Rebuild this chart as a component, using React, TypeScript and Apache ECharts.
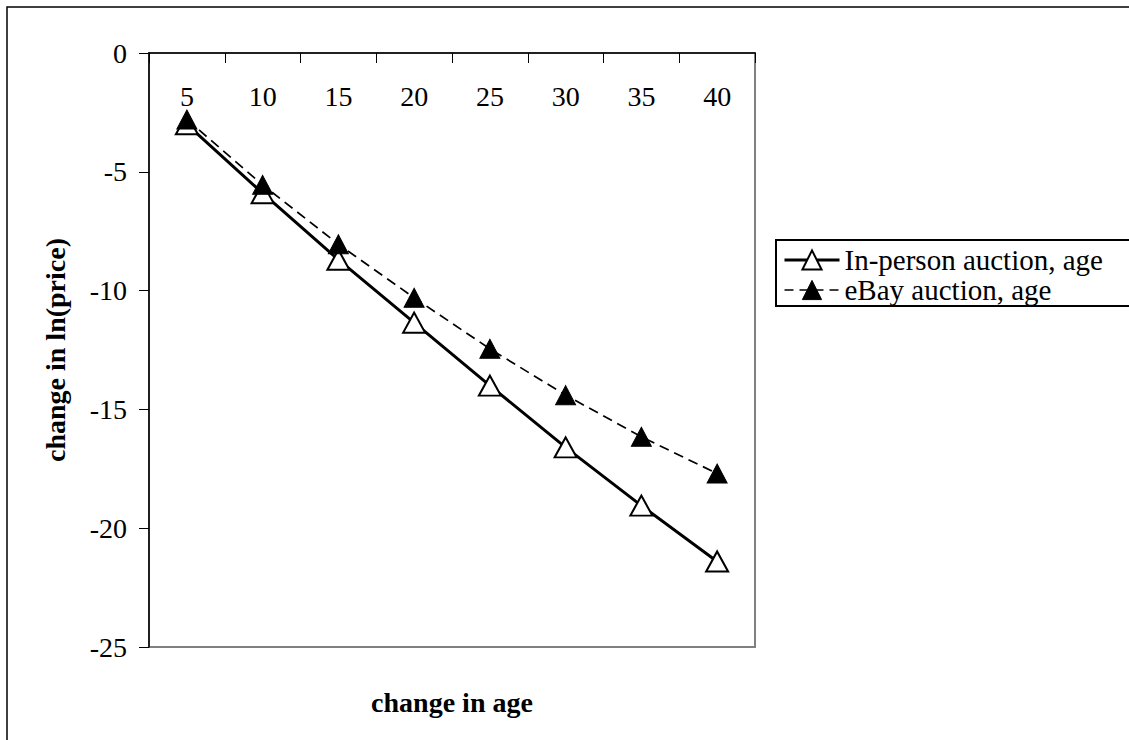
import React, { useEffect, useRef } from "react";
import * as echarts from "echarts";

const categories = ["5", "10", "15", "20", "25", "30", "35", "40"];
const inPerson = [-3.0, -5.9, -8.7, -11.35, -14.0, -16.6, -19.05, -21.4];
const eBay = [-2.8, -5.55, -8.05, -10.3, -12.45, -14.4, -16.15, -17.7];
const seriesNames = ["In-person auction, age", "eBay auction, age"];
const yTitle = "change in ln(price)";
const xTitle = "change in age";

const FONT = "'Liberation Serif', 'Times New Roman', serif";

export default function App() {
  const ref = useRef<HTMLDivElement>(null);
  useEffect(() => {
    if (!ref.current) return;
    const chart = echarts.init(ref.current, undefined, { renderer: "svg" });
    chart.setOption({
      animation: false,
      backgroundColor: "#ffffff",
      grid: {
        left: 149,
        top: 53,
        width: 606,
        height: 594,
        show: true,
        borderColor: "#808080",
        borderWidth: 2,
        containLabel: false,
      },
      xAxis: {
        type: "category",
        position: "top",
        data: categories,
        boundaryGap: true,
        axisLine: { show: true, lineStyle: { color: "#000", width: 1.5 } },
        axisTick: { show: true, inside: true, length: 10, lineStyle: { color: "#000", width: 1 } },
        axisLabel: {
          inside: true,
          margin: 29,
          fontSize: 28,
          fontFamily: FONT,
          color: "#000",
        },
        splitLine: { show: false },
      },
      yAxis: {
        type: "value",
        min: -25,
        max: 0,
        interval: 5,
        name: yTitle,
        nameLocation: "middle",
        nameRotate: 90,
        nameGap: 80,
        nameTextStyle: { fontSize: 28, fontWeight: "bold", fontFamily: FONT, color: "#000" },
        axisLine: { show: true, lineStyle: { color: "#000", width: 1.5 } },
        axisTick: { show: true, inside: false, length: 10, lineStyle: { color: "#000", width: 1 } },
        axisLabel: { margin: 22, fontSize: 28, fontFamily: FONT, color: "#000" },
        splitLine: { show: false },
      },
      legend: {
        orient: "vertical",
        left: 776,
        top: 240,
        padding: [5, 40, 1, 7],
        borderColor: "#000",
        borderWidth: 2,
        itemWidth: 55,
        itemHeight: 24,
        itemGap: 0,
        textStyle: { fontSize: 29, fontFamily: FONT, color: "#000", lineHeight: 30 },
        data: [
          {
            name: seriesNames[0],
            lineStyle: { color: "#000", width: 3, type: "solid" },
            itemStyle: { color: "#fff", borderColor: "#000", borderWidth: 2 },
          },
          {
            name: seriesNames[1],
            lineStyle: { color: "#000", width: 1.5, type: [9, 6] },
            itemStyle: { color: "#000", borderColor: "#000", borderWidth: 1 },
          },
        ],
      },
      graphic: [
        {
          type: "rect",
          shape: { x: 7, y: 7, width: 1200, height: 800 },
          style: { fill: "none", stroke: "#000", lineWidth: 1.5 },
          silent: true,
        },
        {
          type: "text",
          x: 452,
          y: 702,
          style: {
            text: xTitle,
            font: `bold 28px ${FONT}`,
            fill: "#000",
            textAlign: "center",
            textVerticalAlign: "middle",
          },
        },
      ],
      series: [
        {
          name: seriesNames[0],
          type: "line",
          data: inPerson,
          symbol: "triangle",
          symbolSize: [22, 20],
          showAllSymbol: true,
          lineStyle: { color: "#000", width: 3, type: "solid" },
          itemStyle: { color: "#fff", borderColor: "#000", borderWidth: 2 },
          z: 2,
        },
        {
          name: seriesNames[1],
          type: "line",
          data: eBay,
          symbol: "triangle",
          symbolSize: [20, 19],
          showAllSymbol: true,
          lineStyle: { color: "#000", width: 1.7, type: [10, 6] },
          itemStyle: { color: "#000", borderColor: "#000", borderWidth: 1 },
          z: 3,
        },
      ],
    });
    return () => chart.dispose();
  }, []);
  return (
    <div
      ref={ref}
      style={{ position: "fixed", left: 0, top: 0, width: 1129, height: 740, background: "#fff" }}
    />
  );
}
